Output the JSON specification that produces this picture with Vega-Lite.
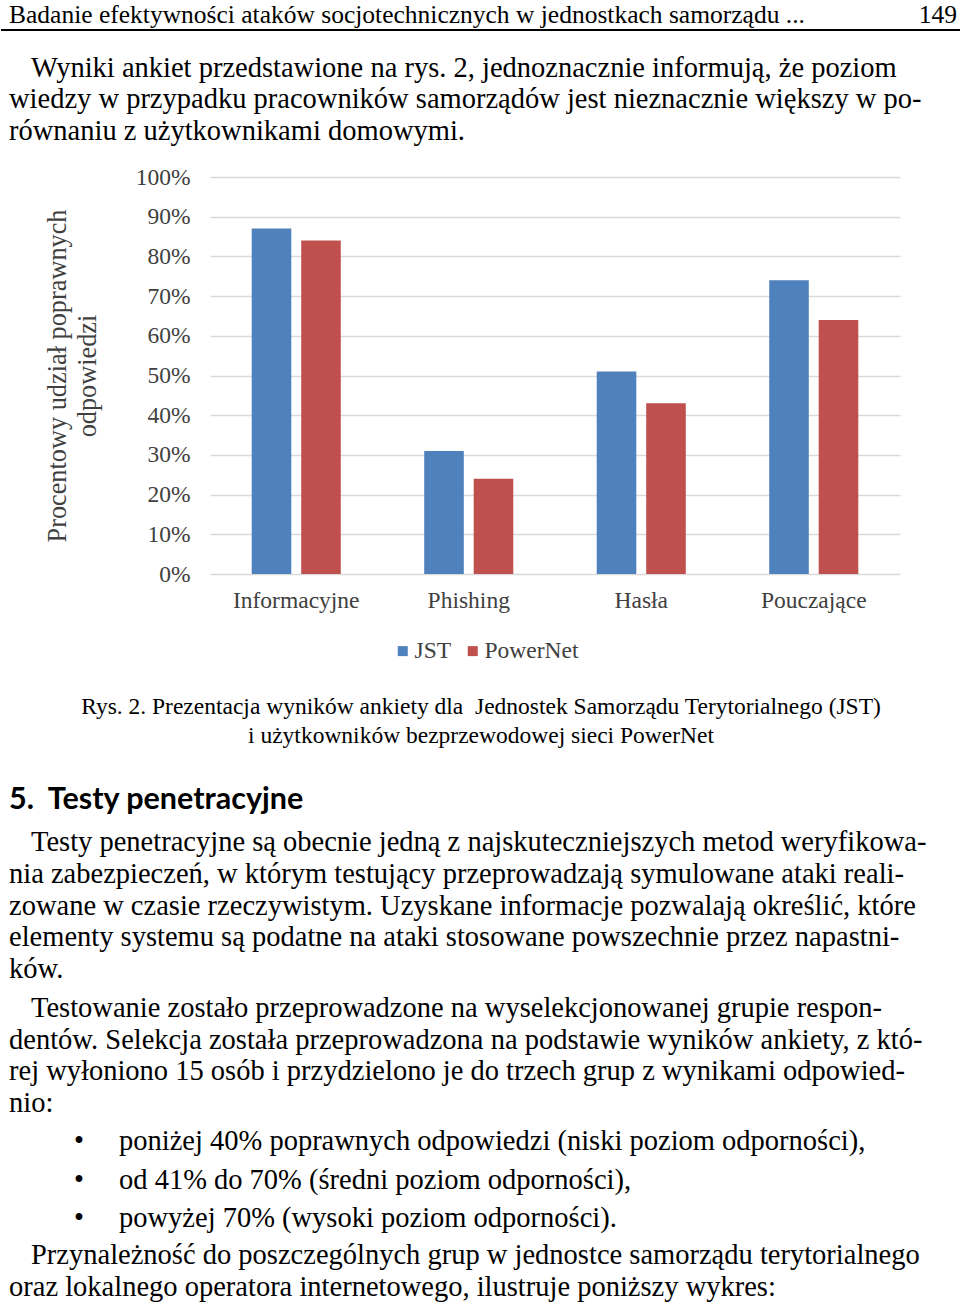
{
  "$schema": "https://vega.github.io/schema/vega-lite/v6.json",
  "padding": 0,
  "spacing": 0,
  "background": "white",
  "resolve": {"scale": {"color": "independent"}, "legend": {"color": "independent"}},
  "config": {
    "view": {"stroke": null},
    "text": {"font": "Liberation Serif", "fontSize": 28.5, "color": "black", "baseline": "middle"},
    "axis": {"labelFont": "Liberation Serif", "titleFont": "Liberation Serif", "labelColor": "#404040", "titleColor": "#404040"},
    "legend": {"labelFont": "Liberation Serif", "labelColor": "#404040"}
  },
  "datasets": {
    "slupki": [
      {"kategoria": "Informacyjne", "grupa": "JST", "udzial": 0.87},
      {"kategoria": "Informacyjne", "grupa": "PowerNet", "udzial": 0.84},
      {"kategoria": "Phishing", "grupa": "JST", "udzial": 0.31},
      {"kategoria": "Phishing", "grupa": "PowerNet", "udzial": 0.24},
      {"kategoria": "Hasła", "grupa": "JST", "udzial": 0.51},
      {"kategoria": "Hasła", "grupa": "PowerNet", "udzial": 0.43},
      {"kategoria": "Pouczające", "grupa": "JST", "udzial": 0.74},
      {"kategoria": "Pouczające", "grupa": "PowerNet", "udzial": 0.64}
    ],
    "tekst": [
      {"blok": "naglowek", "wiersz": 1, "tekst": "Badanie efektywności ataków socjotechnicznych w jednostkach samorządu ..."},
      {"blok": "strona", "wiersz": 1, "tekst": "149"},
      {"blok": "p1", "wiersz": 1, "tekst": "Wyniki ankiet przedstawione na rys. 2, jednoznacznie informują, że poziom"},
      {"blok": "p1", "wiersz": 2, "tekst": "wiedzy w przypadku pracowników samorządów jest nieznacznie większy w po-"},
      {"blok": "p1", "wiersz": 3, "tekst": "równaniu z użytkownikami domowymi."},
      {"blok": "podpis", "wiersz": 1, "tekst": "Rys. 2. Prezentacja wyników ankiety dla\u00a0 Jednostek Samorządu Terytorialnego (JST)"},
      {"blok": "podpis", "wiersz": 2, "tekst": "i użytkowników bezprzewodowej sieci PowerNet"},
      {"blok": "rozdzial", "wiersz": 1, "tekst": "5.\u00a0 Testy penetracyjne"},
      {"blok": "p2", "wiersz": 1, "tekst": "Testy penetracyjne są obecnie jedną z najskuteczniejszych metod weryfikowa-"},
      {"blok": "p2", "wiersz": 2, "tekst": "nia zabezpieczeń, w którym testujący przeprowadzają symulowane ataki reali-"},
      {"blok": "p2", "wiersz": 3, "tekst": "zowane w czasie rzeczywistym. Uzyskane informacje pozwalają określić, które"},
      {"blok": "p2", "wiersz": 4, "tekst": "elementy systemu są podatne na ataki stosowane powszechnie przez napastni-"},
      {"blok": "p2", "wiersz": 5, "tekst": "ków."},
      {"blok": "p3", "wiersz": 1, "tekst": "Testowanie zostało przeprowadzone na wyselekcjonowanej grupie respon-"},
      {"blok": "p3", "wiersz": 2, "tekst": "dentów. Selekcja została przeprowadzona na podstawie wyników ankiety, z któ-"},
      {"blok": "p3", "wiersz": 3, "tekst": "rej wyłoniono 15 osób i przydzielono je do trzech grup z wynikami odpowied-"},
      {"blok": "p3", "wiersz": 4, "tekst": "nio:"},
      {"blok": "lista", "wiersz": 1, "tekst": "poniżej 40% poprawnych odpowiedzi (niski poziom odporności),"},
      {"blok": "lista", "wiersz": 2, "tekst": "od 41% do 70% (średni poziom odporności),"},
      {"blok": "lista", "wiersz": 3, "tekst": "powyżej 70% (wysoki poziom odporności)."},
      {"blok": "p4", "wiersz": 1, "tekst": "Przynależność do poszczególnych grup w jednostce samorządu terytorialnego"},
      {"blok": "p4", "wiersz": 2, "tekst": "oraz lokalnego operatora internetowego, ilustruje poniższy wykres:"}
    ]
  },
  "vconcat": [
    {
      "width": 960,
      "height": 30,
      "data": {"name": "tekst"},
      "layer": [
        {
          "transform": [{"filter": "datum.blok == 'naglowek'"}],
          "mark": {"type": "text", "align": "left", "fontSize": 25.5, "dx": 8},
          "encoding": {
            "x": {"datum": 0, "type": "quantitative", "scale": {"domain": [0, 1]}, "axis": null},
            "text": {"field": "tekst"}
          }
        },
        {
          "transform": [{"filter": "datum.blok == 'strona'"}],
          "mark": {"type": "text", "align": "right", "fontSize": 25.5, "dx": -4},
          "encoding": {
            "x": {"datum": 1, "type": "quantitative"},
            "text": {"field": "tekst"}
          }
        },
        {
          "transform": [{"filter": "datum.blok == 'naglowek'"}],
          "mark": {"type": "rule", "strokeWidth": 2, "color": "black"},
          "encoding": {
            "y": {"datum": 0, "type": "quantitative", "scale": {"domain": [0, 1]}, "axis": null}
          }
        }
      ]
    },
    {
      "width": 960,
      "height": 134,
      "data": {"name": "tekst"},
      "transform": [{"filter": "datum.blok == 'p1'"}],
      "encoding": {
        "y": {"field": "wiersz", "type": "quantitative", "scale": {"domain": [-0.16, 4.094], "reverse": true}, "axis": null},
        "x": {"datum": 0, "type": "quantitative", "scale": {"domain": [0, 1]}, "axis": null},
        "text": {"field": "tekst"}
      },
      "layer": [
        {"transform": [{"filter": "datum.wiersz == 1"}], "mark": {"type": "text", "align": "left", "dx": 30}},
        {"transform": [{"filter": "datum.wiersz > 1"}], "mark": {"type": "text", "align": "left", "dx": 8}}
      ]
    },
    {
      "spacing": 0,
      "resolve": {"scale": {"color": "independent"}, "legend": {"color": "independent"}},
      "hconcat": [
        {
          "width": 43,
          "height": 10,
          "data": {"values": []},
          "mark": "point",
          "encoding": {}
        },
        {
          "width": 690,
          "height": 397,
          "data": {"name": "slupki"},
          "mark": {"type": "bar"},
          "encoding": {
            "x": {
              "field": "kategoria",
              "type": "nominal",
              "sort": ["Informacyjne", "Phishing", "Hasła", "Pouczające"],
              "scale": {"paddingInner": 0, "paddingOuter": 0},
              "axis": {"title": null, "labelAngle": 0, "domain": false, "ticks": false, "tickSize": 0, "labelPadding": 14, "labelFontSize": 23.5}
            },
            "xOffset": {
              "field": "grupa",
              "type": "nominal",
              "sort": ["JST", "PowerNet"],
              "scale": {"paddingInner": 0.2, "paddingOuter": 0.843}
            },
            "y": {
              "field": "udzial",
              "type": "quantitative",
              "scale": {"domain": [0, 1]},
              "axis": {
                "values": [0, 0.1, 0.2, 0.3, 0.4, 0.5, 0.6, 0.7, 0.8, 0.9, 1],
                "format": ".0%",
                "title": ["Procentowy udział poprawnych", "odpowiedzi"],
                "titleFontSize": 26.3,
                "titleFontWeight": "normal",
                "titleLineHeight": 30,
                "titlePadding": 34,
                "labelFontSize": 23.5,
                "labelPadding": 20,
                "ticks": false,
                "tickSize": 0,
                "domain": false,
                "grid": true,
                "gridColor": "#d9d9d9",
                "gridWidth": 1.5
              }
            },
            "color": {
              "field": "grupa",
              "type": "nominal",
              "scale": {"domain": ["JST", "PowerNet"], "range": ["#4F81BD", "#C0504D"]},
              "legend": {
                "title": null,
                "orient": "none",
                "legendX": 181,
                "legendY": 462,
                "direction": "horizontal",
                "symbolType": "square",
                "symbolSize": 100,
                "symbolStrokeWidth": 0,
                "labelFontSize": 23.5,
                "labelOffset": 0,
                "columnPadding": 9
              }
            }
          }
        }
      ]
    },
    {
      "width": 960,
      "height": 115,
      "data": {"name": "tekst"},
      "transform": [{"filter": "datum.blok == 'podpis'"}],
      "mark": {"type": "text", "align": "center", "fontSize": 23.5},
      "encoding": {
        "y": {"field": "wiersz", "type": "quantitative", "scale": {"domain": [-0.517, 3.449], "reverse": true}, "axis": null},
        "text": {"field": "tekst"}
      }
    },
    {
      "width": 960,
      "height": 40,
      "data": {"name": "tekst"},
      "transform": [{"filter": "datum.blok == 'rozdzial'"}],
      "mark": {"type": "text", "align": "left", "font": "Lato", "fontWeight": "bold", "fontSize": 30.5, "dx": 8, "dy": 2},
      "encoding": {
        "x": {"datum": 0, "type": "quantitative", "scale": {"domain": [0, 1]}, "axis": null},
        "text": {"field": "tekst"}
      }
    },
    {
      "width": 960,
      "height": 175,
      "data": {"name": "tekst"},
      "transform": [{"filter": "datum.blok == 'p2'"}],
      "encoding": {
        "y": {"field": "wiersz", "type": "ordinal", "scale": {"type": "point", "padding": 0.756}, "axis": null},
        "x": {"datum": 0, "type": "quantitative", "scale": {"domain": [0, 1]}, "axis": null},
        "text": {"field": "tekst"}
      },
      "layer": [
        {"transform": [{"filter": "datum.wiersz == 1"}], "mark": {"type": "text", "align": "left", "dx": 30}},
        {"transform": [{"filter": "datum.wiersz > 1"}], "mark": {"type": "text", "align": "left", "dx": 8}}
      ]
    },
    {
      "width": 960,
      "height": 121,
      "data": {"name": "tekst"},
      "transform": [{"filter": "datum.blok == 'p3'"}],
      "encoding": {
        "y": {"field": "wiersz", "type": "ordinal", "scale": {"type": "point", "padding": 0.41}, "axis": null},
        "x": {"datum": 0, "type": "quantitative", "scale": {"domain": [0, 1]}, "axis": null},
        "text": {"field": "tekst"}
      },
      "layer": [
        {"transform": [{"filter": "datum.wiersz == 1"}], "mark": {"type": "text", "align": "left", "dx": 30}},
        {"transform": [{"filter": "datum.wiersz > 1"}], "mark": {"type": "text", "align": "left", "dx": 8}}
      ]
    },
    {
      "width": 960,
      "height": 123,
      "data": {"name": "tekst"},
      "transform": [{"filter": "datum.blok == 'lista'"}],
      "encoding": {
        "y": {"field": "wiersz", "type": "ordinal", "scale": {"type": "point", "padding": 0.618}, "axis": null},
        "x": {"datum": 0, "type": "quantitative", "scale": {"domain": [0, 1]}, "axis": null}
      },
      "layer": [
        {"mark": {"type": "text", "align": "center", "dx": 78}, "encoding": {"text": {"value": "•"}}},
        {"mark": {"type": "text", "align": "left", "dx": 118}, "encoding": {"text": {"field": "tekst"}}}
      ]
    },
    {
      "width": 960,
      "height": 56,
      "data": {"name": "tekst"},
      "transform": [{"filter": "datum.blok == 'p4'"}],
      "encoding": {
        "y": {"field": "wiersz", "type": "ordinal", "scale": {"type": "point", "padding": 0.375}, "axis": null},
        "x": {"datum": 0, "type": "quantitative", "scale": {"domain": [0, 1]}, "axis": null},
        "text": {"field": "tekst"}
      },
      "layer": [
        {"transform": [{"filter": "datum.wiersz == 1"}], "mark": {"type": "text", "align": "left", "dx": 30}},
        {"transform": [{"filter": "datum.wiersz > 1"}], "mark": {"type": "text", "align": "left", "dx": 8}}
      ]
    }
  ]
}
